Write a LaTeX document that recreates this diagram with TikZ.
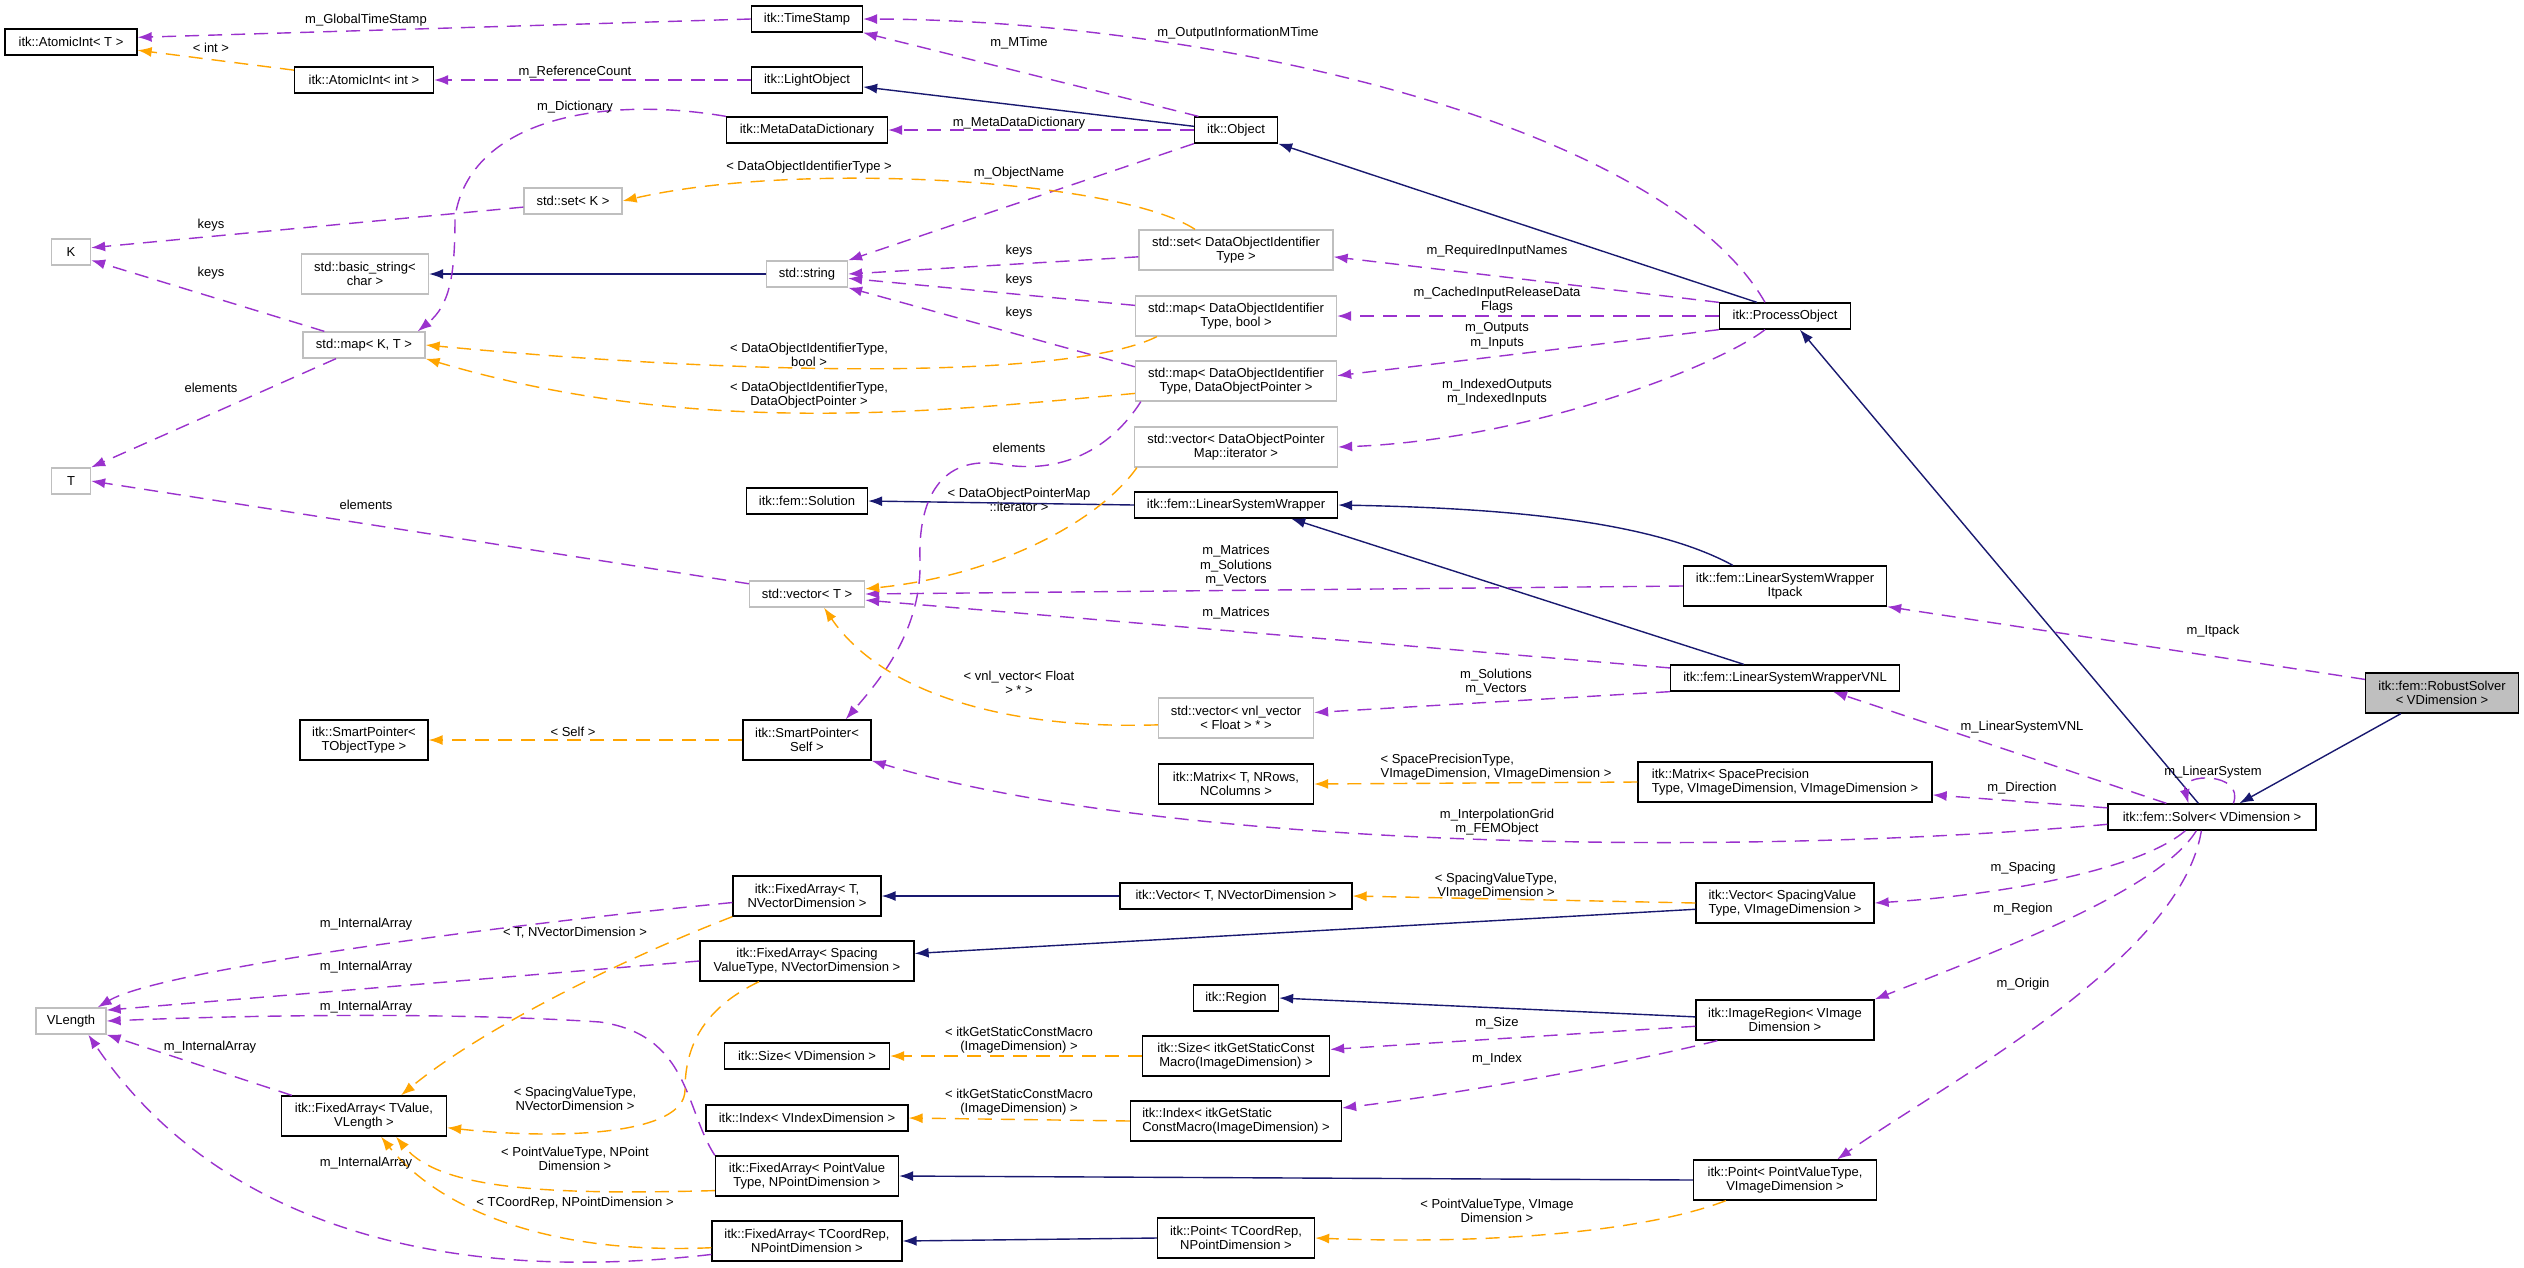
\documentclass[tikz,border=0pt]{standalone}
\usepackage{fontspec}
\setmainfont{Liberation Sans}
\usetikzlibrary{arrows.meta,positioning}
\definecolor{edgeUse}{RGB}{154,50,205}
\definecolor{edgeTmpl}{RGB}{255,165,0}
\definecolor{edgeInh}{RGB}{25,25,112}
\definecolor{extGray}{RGB}{191,191,191}

\begin{document}
\begin{tikzpicture}[x=1pt,y=-1pt,
  cls/.style={draw=black,line width=1.3pt,fill=white,font=\fontsize{13}{14.5}\selectfont,
    align=center,inner sep=2pt,minimum height=26pt},
  ext/.style={cls,draw=extGray},
  two/.style={minimum height=40pt},
  lbl/.style={font=\fontsize{13}{14.5}\selectfont,align=center,inner sep=0pt},
  use/.style={-{Latex[length=14pt,width=10pt]},draw=edgeUse,line width=1.4pt,dash pattern=on 14pt off 9pt},
  tmpl/.style={use,draw=edgeTmpl},
  inh/.style={-{Latex[length=14pt,width=10pt]},draw=edgeInh,line width=1.4pt}
]
\useasboundingbox (0,0) rectangle (2524,1267);
\fill[white] (0,0) rectangle (2524,1267);

% classes
\node[cls,minimum width=132pt] (atomicT) at (71,42) {itk::AtomicInt< T >};
\node[cls,minimum width=139pt] (atomicInt) at (364,80) {itk::AtomicInt< int >};
\node[cls,minimum width=111pt] (timeStamp) at (807,19) {itk::TimeStamp};
\node[cls,minimum width=111pt] (lightObj) at (807,80) {itk::LightObject};
\node[cls,minimum width=161pt] (metaDict) at (807,130) {itk::MetaDataDictionary};
\node[cls,minimum width=83pt] (object) at (1236,130) {itk::Object};
\node[ext,minimum width=98pt] (setK) at (573,201) {std::set< K >};
\node[ext,minimum width=39pt] (K) at (71,252) {K};
\node[ext,two,minimum width=127pt] (basicStr) at (365,274) {std::basic\_string<\\char >};
\node[ext,minimum width=81pt] (stdString) at (807,274) {std::string};
\node[ext,minimum width=122pt] (mapKT) at (364,345) {std::map< K, T >};
\node[ext,two,minimum width=194pt] (setDOI) at (1236,250) {std::set< DataObjectIdentifier\\Type >};
\node[ext,two,minimum width=201pt] (mapDOIbool) at (1236,316) {std::map< DataObjectIdentifier\\Type, bool >};
\node[ext,two,minimum width=201pt] (mapDOIptr) at (1236,381) {std::map< DataObjectIdentifier\\Type, DataObjectPointer >};
\node[cls,minimum width=131pt] (processObj) at (1785,316) {itk::ProcessObject};
\node[ext,minimum width=39pt] (T) at (71,481) {T};
\node[cls,minimum width=121pt] (solution) at (807,501) {itk::fem::Solution};
\node[ext,minimum width=115pt] (vecT) at (807,594) {std::vector< T >};
\node[cls,two,minimum width=128pt] (smartTObj) at (364,740) {itk::SmartPointer<\\TObjectType >};
\node[cls,two,minimum width=128pt] (smartSelf) at (807,740) {itk::SmartPointer<\\Self >};
\node[ext,two,minimum width=203pt] (vecDOPit) at (1236,447) {std::vector< DataObjectPointer\\Map::iterator >};
\node[cls,minimum width=203pt] (lsw) at (1236,505) {itk::fem::LinearSystemWrapper};
\node[ext,two,minimum width=155pt] (vecVnl) at (1236,718) {std::vector< vnl\_vector\\< Float > * >};
\node[cls,two,minimum width=155pt] (matrixT) at (1236,784) {itk::Matrix< T, NRows,\\NColumns >};
\node[cls,two,minimum width=203pt] (lswItpack) at (1785,586) {itk::fem::LinearSystemWrapper\\Itpack};
\node[cls,minimum width=229pt] (lswVnl) at (1785,678) {itk::fem::LinearSystemWrapperVNL};
\node[cls,two,minimum width=294pt,align=left] (matrixSP) at (1785,782) {itk::Matrix< SpacePrecision\\Type, VImageDimension, VImageDimension >};
\node[cls,minimum width=208pt] (solver) at (2212,817) {itk::fem::Solver< VDimension >};
\node[cls,two,minimum width=153pt,fill=extGray] (robust) at (2442,693) {itk::fem::RobustSolver\\< VDimension >};
\node[ext,minimum width=70pt] (vlength) at (71,1021) {VLength};
\node[cls,two,minimum width=165pt] (faTValue) at (364,1116) {itk::FixedArray< TValue,\\VLength >};
\node[cls,two,minimum width=148pt] (faTNV) at (807,896) {itk::FixedArray< T,\\NVectorDimension >};
\node[cls,two,minimum width=214pt] (faSpacing) at (807,961) {itk::FixedArray< Spacing\\ValueType, NVectorDimension >};
\node[cls,minimum width=165pt] (sizeV) at (807,1056) {itk::Size< VDimension >};
\node[cls,minimum width=202pt] (indexV) at (807,1118) {itk::Index< VIndexDimension >};
\node[cls,two,minimum width=183pt] (faPoint) at (807,1176) {itk::FixedArray< PointValue\\Type, NPointDimension >};
\node[cls,two,minimum width=190pt] (faCoord) at (807,1241) {itk::FixedArray< TCoordRep,\\NPointDimension >};
\node[cls,minimum width=232pt] (vecTNV) at (1236,896) {itk::Vector< T, NVectorDimension >};
\node[cls,minimum width=85pt] (region) at (1236,998) {itk::Region};
\node[cls,two,minimum width=187pt] (sizeMacro) at (1236,1056) {itk::Size< itkGetStaticConst\\Macro(ImageDimension) >};
\node[cls,two,minimum width=211pt,align=left] (indexMacro) at (1236,1121) {itk::Index< itkGetStatic\\ConstMacro(ImageDimension) >};
\node[cls,two,minimum width=157pt] (pointTC) at (1236,1238) {itk::Point< TCoordRep,\\NPointDimension >};
\node[cls,two,minimum width=178pt,align=left] (vecSV) at (1785,903) {itk::Vector< SpacingValue\\Type, VImageDimension >};
\node[cls,two,minimum width=178pt] (imgRegion) at (1785,1020) {itk::ImageRegion< VImage\\Dimension >};
\node[cls,two,minimum width=183pt] (pointPV) at (1785,1180) {itk::Point< PointValueType,\\VImageDimension >};

% inheritance
\draw[inh] (object.175) -- (lightObj.-7);
\draw[inh] ([xshift=38pt]processObj.north west) -- (object.south east);
\draw[inh] (stdString.west) -- (basicStr.east);
\draw[inh] (lsw.west) -- (solution.east);
\draw[inh] ([xshift=50pt]lswItpack.north west) .. controls (1650,520) and (1500,508) .. (lsw.east);
\draw[inh] ([xshift=74pt]lswVnl.north west) -- ([xshift=-47pt]lsw.south east);
\draw[inh] ([xshift=91pt]solver.north west) -- ([xshift=81pt]processObj.south west);
\draw[inh] ([xshift=36pt]robust.south west) -- ([xshift=132pt]solver.north west);
\draw[inh] (vecTNV.west) -- (faTNV.east);
\draw[inh] (vecSV.184) -- (faSpacing.4);
\draw[inh] (imgRegion.178) -- (region.east);
\draw[inh] (pointPV.west) -- (faPoint.east);
\draw[inh] (pointTC.west) -- (faCoord.east);

% members
\draw[use] (timeStamp.west) -- (atomicT.4);
\draw[use] (lightObj.west) -- (atomicInt.east);
\draw[use] (object.160) -- (timeStamp.south east);
\draw[use] ([xshift=-20pt]processObj.north) .. controls (1660,120) and (1200,20) .. (timeStamp.east);
\draw[use] (object.west) -- (metaDict.east);
\draw[use] (metaDict.north west) .. controls (600,95) and (470,120) .. (455,217)
  .. controls (455,275) and (450,305) .. ([xshift=-8pt]mapKT.north east);
\draw[use] (object.south west) -- (stdString.north east);
\draw[use] (processObj.north west) -- (setDOI.-4);
\draw[use] (processObj.west) -- (mapDOIbool.east);
\draw[use] (processObj.south west) -- (mapDOIptr.3);
\draw[use] ([xshift=-20pt]processObj.south) .. controls (1720,365) and (1530,440) .. (vecDOPit.east);
\draw[use] (setDOI.184) -- (stdString.east);
\draw[use] (mapDOIbool.174) -- (stdString.-6);
\draw[use] (mapDOIptr.172) -- (stdString.south east);
\draw[use] (setK.187) -- (K.12);
\draw[use] ([xshift=22pt]mapKT.north west) -- (K.-22);
\draw[use] ([xshift=-28pt]mapKT.south) -- (T.north east);
\draw[use] ([xshift=6pt]mapDOIptr.south west) .. controls (1110,450) and (1060,475) .. (1000,464)
  .. controls (940,455) and (918,500) .. (920,560)
  .. controls (922,630) and (880,680) .. ([xshift=-26pt]smartSelf.north east);
\draw[use] (vecT.170) -- (T.east);
\draw[use] (lswItpack.west) -- (vecT.east);
\draw[use] (lswVnl.175) -- (vecT.-6);
\draw[use] (lswVnl.south west) -- (vecVnl.4);
\draw[use] (solver.184) .. controls (1700,860) and (1150,845) .. (smartSelf.south east);
\draw[use] (solver.175) -- (matrixSP.-5);
\draw[use] ([xshift=59pt]solver.north west) -- ([xshift=48pt]lswVnl.south);
\draw[use] ([xshift=126pt]solver.north west) .. controls (2245,772) and (2180,772) .. ([xshift=81pt]solver.north west);
\draw[use] (robust.170) -- (lswItpack.south east);
\draw[use] ([xshift=78pt]solver.south west) .. controls (2140,870) and (2000,895) .. (vecSV.east);
\draw[use] ([xshift=89pt]solver.south west) .. controls (2160,890) and (2000,950) .. (imgRegion.north east);
\draw[use] ([xshift=94pt]solver.south west) .. controls (2180,960) and (1950,1080) .. ([xshift=-40pt]pointPV.north east);
\draw[use] (imgRegion.184) -- (sizeMacro.4);
\draw[use] ([xshift=22pt]imgRegion.south west) .. controls (1620,1065) and (1450,1095) .. (indexMacro.7);
\draw[use] (faTNV.185) .. controls (500,925) and (160,970) .. ([xshift=-9pt]vlength.north east);
\draw[use] (faSpacing.west) -- (vlength.17);
\draw[use] (faPoint.north west) .. controls (685,1110) and (690,1035) .. (600,1022)
  .. controls (450,1012) and (250,1015) .. (vlength.east);
\draw[use] ([xshift=11pt]faTValue.north west) -- (vlength.south east);
\draw[use] (faCoord.188) .. controls (400,1290) and (200,1200) .. ([xshift=53pt]vlength.south west);

% template arguments
\draw[tmpl] (atomicInt.172) -- (atomicT.-7);
\draw[tmpl] ([xshift=-41pt]setDOI.north) .. controls (1120,180) and (800,160) .. (setK.east);
\draw[tmpl] ([xshift=22pt]mapDOIbool.south west) .. controls (1080,375) and (800,380) .. (mapKT.east);
\draw[tmpl] (mapDOIptr.187) .. controls (950,410) and (700,440) .. (mapKT.south east);
\draw[tmpl] ([xshift=3pt]vecDOPit.south west) .. controls (1100,520) and (1000,575) .. (vecT.5);
\draw[tmpl] (vecVnl.185) .. controls (1000,730) and (880,690) .. ([xshift=17pt]vecT.south);
\draw[tmpl] (smartSelf.west) -- (smartTObj.east);
\draw[tmpl] (matrixSP.west) -- (matrixT.east);
\draw[tmpl] (vecSV.west) -- (vecTNV.east);
\draw[tmpl] (sizeMacro.west) -- (sizeV.east);
\draw[tmpl] (indexMacro.west) -- (indexV.east);
\draw[tmpl] ([xshift=33pt]pointPV.south west) .. controls (1650,1230) and (1500,1245) .. (pointTC.east);
\draw[tmpl] (faTNV.south west) .. controls (620,960) and (480,1030) .. ([xshift=37pt]faTValue.north);
\draw[tmpl] ([xshift=-48pt]faSpacing.south) .. controls (700,1010) and (685,1050) .. (685,1090)
  .. controls (685,1135) and (560,1140) .. (faTValue.-8);
\draw[tmpl] (faPoint.189) .. controls (550,1195) and (440,1190) .. ([xshift=32pt]faTValue.south);
\draw[tmpl] (faCoord.184) .. controls (550,1255) and (440,1210) .. ([xshift=17pt]faTValue.south);

% edge labels
\node[lbl] (lGlobalTS) at (366,20) {m\_GlobalTimeStamp};
\node[lbl] (lInt) at (211,48) {< int >};
\node[lbl] (lRefCount) at (575,72) {m\_ReferenceCount};
\node[lbl] (lMTime) at (1019,43) {m\_MTime};
\node[lbl] (lOutInfo) at (1238,33) {m\_OutputInformationMTime};
\node[lbl] (lMetaDict) at (1019,123) {m\_MetaDataDictionary};
\node[lbl] (lDict) at (575,107) {m\_Dictionary};
\node[lbl] (lDOIType) at (809,167) {< DataObjectIdentifierType >};
\node[lbl] (lObjName) at (1019,173) {m\_ObjectName};
\node[lbl] (lReqIn) at (1497,251) {m\_RequiredInputNames};
\node[lbl] (lCached) at (1497,300) {m\_CachedInputReleaseData\\Flags};
\node[lbl] (lOutIn) at (1497,336) {m\_Outputs\\m\_Inputs};
\node[lbl] (lIndexed) at (1497,392) {m\_IndexedOutputs\\m\_IndexedInputs};
\node[lbl] (lKeysA) at (1019,251) {keys};
\node[lbl] (lKeysB) at (1019,280) {keys};
\node[lbl] (lKeysC) at (1019,313) {keys};
\node[lbl] (lKeysD) at (211,225) {keys};
\node[lbl] (lKeysE) at (211,273) {keys};
\node[lbl] (lElemA) at (211,388) {elements};
\node[lbl] (lMapBool) at (809,355) {< DataObjectIdentifierType,\\bool >};
\node[lbl] (lMapPtr) at (809,395) {< DataObjectIdentifierType,\\DataObjectPointer >};
\node[lbl] (lElemB) at (1019,448) {elements};
\node[lbl] (lIter) at (1019,500) {< DataObjectPointerMap\\::iterator >};
\node[lbl] (lElemC) at (366,505) {elements};
\node[lbl] (lMSV) at (1236,566) {m\_Matrices\\m\_Solutions\\m\_Vectors};
\node[lbl] (lMat) at (1236,613) {m\_Matrices};
\node[lbl] (lVnl) at (1019,683) {< vnl\_vector< Float\\> * >};
\node[lbl] (lSolVec) at (1496,682) {m\_Solutions\\m\_Vectors};
\node[lbl] (lSelf) at (573,732) {< Self >};
\node[lbl] (lInterp) at (1497,822) {m\_InterpolationGrid\\m\_FEMObject};
\node[lbl,align=left] (lSpPrec) at (1496,767) {< SpacePrecisionType,\\VImageDimension, VImageDimension >};
\node[lbl] (lDir) at (2022,788) {m\_Direction};
\node[lbl] (lLSVNL) at (2022,727) {m\_LinearSystemVNL};
\node[lbl] (lLS) at (2213,772) {m\_LinearSystem};
\node[lbl] (lItpack) at (2213,631) {m\_Itpack};
\node[lbl] (lSpacing) at (2023,868) {m\_Spacing};
\node[lbl] (lRegion) at (2023,909) {m\_Region};
\node[lbl] (lOrigin) at (2023,984) {m\_Origin};
\node[lbl] (lSpVal) at (1496,886) {< SpacingValueType,\\VImageDimension >};
\node[lbl] (lSize) at (1497,1023) {m\_Size};
\node[lbl] (lIndex) at (1497,1059) {m\_Index};
\node[lbl] (lMacroA) at (1019,1040) {< itkGetStaticConstMacro\\(ImageDimension) >};
\node[lbl] (lMacroB) at (1019,1102) {< itkGetStaticConstMacro\\(ImageDimension) >};
\node[lbl] (lPtVal) at (1497,1211) {< PointValueType, VImage\\Dimension >};
\node[lbl] (lIntA) at (366,924) {m\_InternalArray};
\node[lbl] (lIntB) at (366,967) {m\_InternalArray};
\node[lbl] (lIntC) at (366,1007) {m\_InternalArray};
\node[lbl] (lIntD) at (210,1047) {m\_InternalArray};
\node[lbl] (lIntE) at (366,1163) {m\_InternalArray};
\node[lbl] (lTNV) at (575,933) {< T, NVectorDimension >};
\node[lbl] (lSpNV) at (575,1099) {< SpacingValueType,\\NVectorDimension >};
\node[lbl] (lPtNP) at (575,1159) {< PointValueType, NPoint\\Dimension >};
\node[lbl] (lTCoord) at (575,1203) {< TCoordRep, NPointDimension >};
\end{tikzpicture}
\end{document}
